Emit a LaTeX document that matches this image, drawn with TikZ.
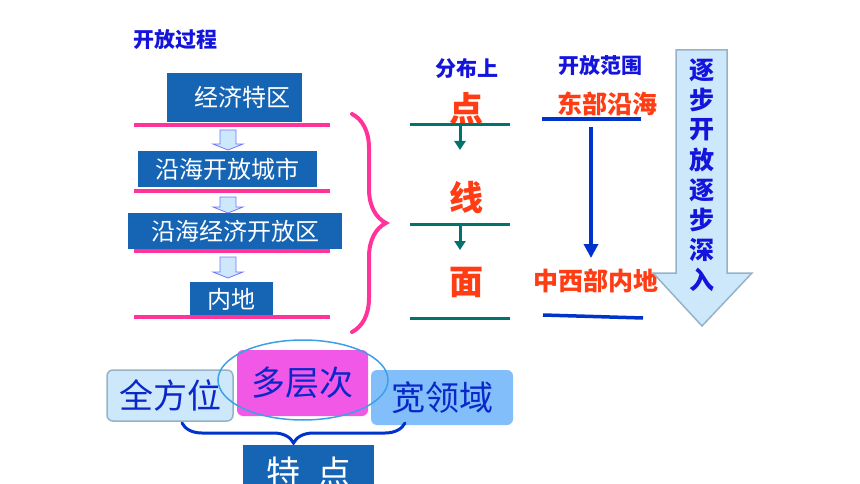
\documentclass[tikz,border=0pt]{standalone}
\usepackage{fontspec}
\newfontfamily\cjk{Noto Sans CJK SC}
\usetikzlibrary{decorations.pathreplacing,arrows.meta}
\definecolor{boxblue}{RGB}{22,101,181}
\definecolor{pinkline}{RGB}{255,51,153}
\definecolor{titleblue}{RGB}{20,20,220}
\definecolor{redtext}{RGB}{255,60,20}
\definecolor{tealline}{RGB}{0,115,110}
\definecolor{lineblue}{RGB}{0,51,204}
\definecolor{paleblue}{RGB}{204,232,250}
\definecolor{arrowrim}{RGB}{150,178,198}
\definecolor{magentabox}{RGB}{242,88,230}
\definecolor{skyblue}{RGB}{130,190,250}
\definecolor{darkblue}{RGB}{10,40,200}
\definecolor{ringblue}{RGB}{60,160,230}

\begin{document}
\begin{tikzpicture}[x=1pt,y=-1pt]
				\tikzset{stage/.style={fill=boxblue,text=white,inner sep=0pt,font=\cjk\fontsize{24}{28}\selectfont}}
				\tikzset{head/.style={text=titleblue,font=\cjk\bfseries\fontsize{21}{24}\selectfont}}
				\tikzset{level/.style={text=redtext,font=\cjk\bfseries\fontsize{34}{38}\selectfont}}
				\tikzset{area/.style={text=redtext,font=\cjk\bfseries\fontsize{25}{28}\selectfont}}
				\tikzset{vert/.style={text=titleblue,font=\cjk\bfseries\fontsize{25}{28}\selectfont}}
				\tikzset{feature/.style={rounded corners=6pt,inner sep=0pt,text=darkblue,font=\cjk\fontsize{34}{38}\selectfont}}
				\tikzset{blockarrow/.style={fill=paleblue,draw=blue!55,line width=0.8pt}}
				\useasboundingbox (0,0) rectangle (860,484);
				% opening process
				\node (title) [head] at (175,40) {开放过程};
				\node (jjtq) [stage,minimum width=135pt,minimum height=49pt] at (234.5,97.5) {\hspace*{15pt}经济特区};
				\node (yhcs) [stage,minimum width=179pt,minimum height=36pt] at (227.5,169) {沿海开放城市};
				\node (yhkf) [stage,minimum width=214pt,minimum height=36pt] at (235,231) {沿海经济开放区};
				\node (neidi) [stage,minimum width=83pt,minimum height=35pt] at (231.5,299.5) {内地};
				\foreach \a/\b in {130/150,197/213,257/278}
					\draw[blockarrow] (220,\a) -- (236,\a) -- (236,\b-6) -- (243,\b-6) -- (228,\b) -- (213,\b-6) -- (220,\b-6) -- cycle;
				\foreach \y in {125,191,251,317}
					\draw[pinkline,line width=4pt] (134,\y) -- (330,\y);
				\draw[pinkline,line width=4pt,line cap=round,decorate,decoration={brace,amplitude=34pt}] (352,114) -- (352,332);
				% distribution
				\node (fbs) [head] at (467,69) {分布上};
				\node (dian) [level] at (466,108) {点};
				\node (xian) [level] at (466,198) {线};
				\node (mian) [level] at (466,282) {面};
				\foreach \y in {125,224,318}
					\draw[tealline,line width=3pt] (410,\y) -- (510,\y);
				\coordinate (d1) at (460,125);
				\coordinate (d2) at (460,150);
				\coordinate (x1) at (460,224);
				\coordinate (x2) at (460,250);
				\draw[tealline,line width=3pt,-{Triangle[width=11pt,length=9pt]}] (d1) -- (d2);
				\draw[tealline,line width=3pt,-{Triangle[width=11pt,length=9pt]}] (x1) -- (x2);
				% scope of opening
				\node (fwfw) [head] at (600,66) {开放范围};
				\node (dbyh) [area] at (607,104) {东部沿海};
				\node (zxb) [area] at (596,281) {中西部内地};
				\draw[lineblue,line width=3.5pt] (542,119) -- (641,119);
				\draw[lineblue,line width=3.5pt] (543,315) -- (643,318);
				\coordinate (e1) at (591,127);
				\coordinate (e2) at (591,258);
				\draw[lineblue,line width=4pt,-{Triangle[width=14pt,length=14pt]}] (e1) -- (e2);
				\draw[fill=paleblue,draw=arrowrim,line width=1.5pt] (676,50) -- (727,50) -- (727,273) -- (752,273) -- (702,326) -- (653,273) -- (676,273) -- cycle;
				\foreach \c [count=\i] in {逐,步,开,放,逐,步,深,入}
					\node (v\i) [vert] at (702,40+30*\i) {\c};
				% features
				\node (qfw) [feature,fill=paleblue,draw=arrowrim,line width=1.5pt,minimum width=126pt,minimum height=51pt] at (170,395.5) {全方位};
				\node (dcc) [feature,fill=magentabox,minimum width=131pt,minimum height=66pt] at (302.5,383) {多层次};
				\node (kly) [feature,fill=skyblue,minimum width=142pt,minimum height=55pt] at (442,397.5) {宽领域};
				\draw[ringblue,line width=1.5pt] (303,380) ellipse [x radius=85pt,y radius=40pt];
				\draw[lineblue,line width=3pt,line cap=round,decorate,decoration={brace,mirror,amplitude=20pt}] (182,423) -- (405,423);
				\node (td) [stage,font=\cjk\fontsize{34}{38}\selectfont,minimum width=131pt,minimum height=56pt] at (308.5,473) {特\hspace{.5em}点};
			\end{tikzpicture}
\end{document}
